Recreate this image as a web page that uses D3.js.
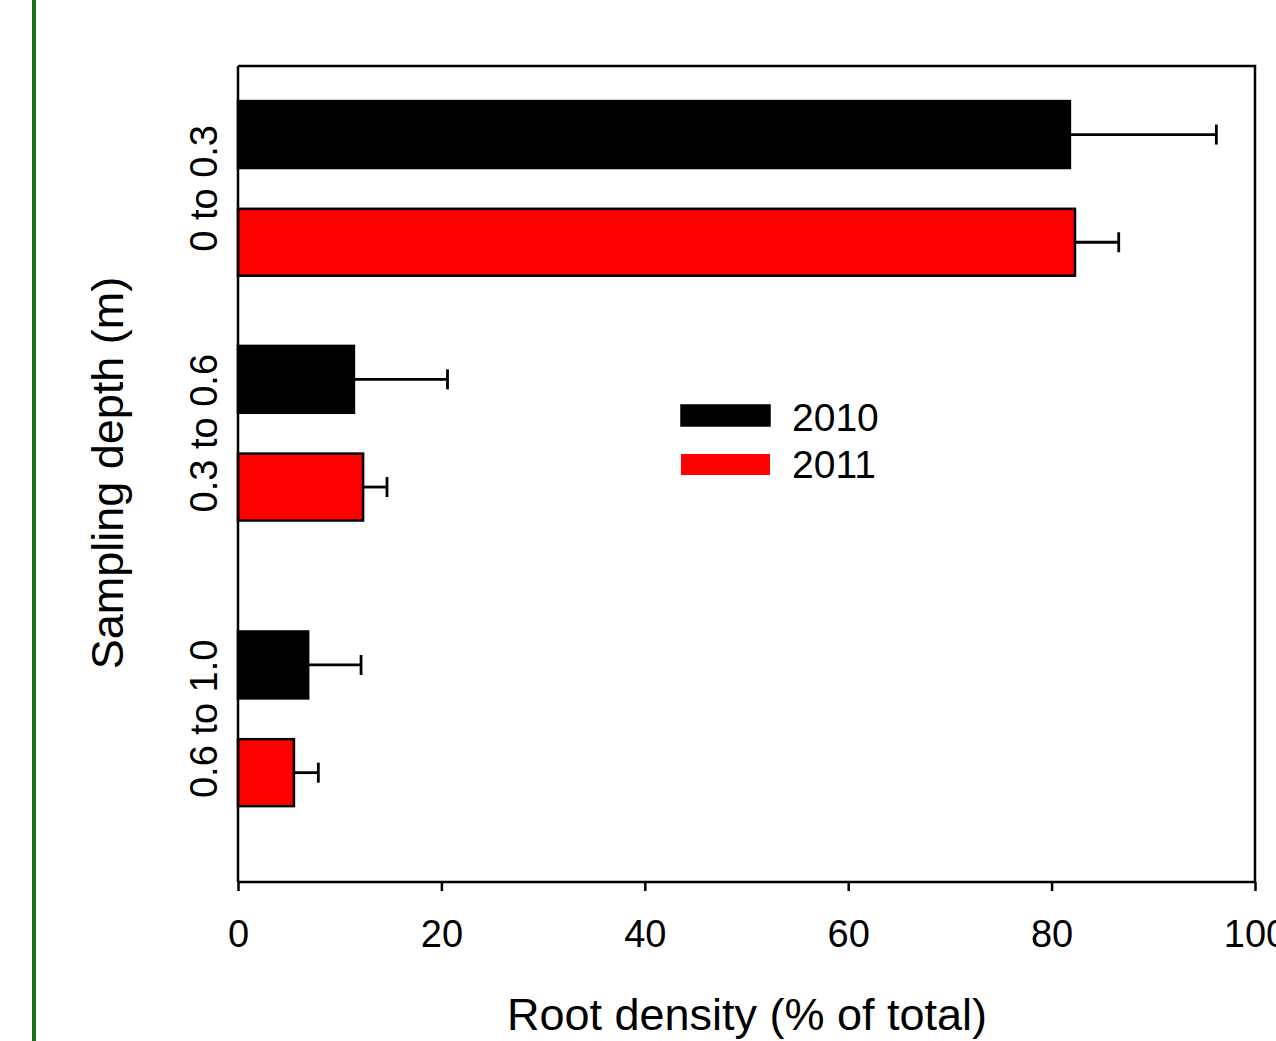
<!DOCTYPE html>
<html>
<head>
<meta charset="utf-8">
<script src="https://cdn.jsdelivr.net/npm/d3@7"></script>
<style>
  html, body { margin: 0; padding: 0; background: #fff; }
  svg { display: block; }
  text { font-family: "Liberation Sans", Arial, sans-serif; fill: #000; }
</style>
</head>
<body>
<script>
// Sampling depth layers (m) and their labels
const depthTop = [0, 0.3, 0.6];
const depthBottom = [0.3, 0.6, 1.0];
const depthLabels = ["0 to 0.3", "0.3 to 0.6", "0.6 to 1.0"];

// Series: root density (% of total) and standard errors
const years = ["2010", "2011"];
const density2010 = [81.8, 11.4, 6.9];
const error2010 = [14.4, 9.2, 5.2];
const density2011 = [82.3, 12.3, 5.5];
const error2011 = [4.3, 2.35, 2.4];

const xTicks = [0, 20, 40, 60, 80, 100];
const colors = ["#000000", "#ff0000"];

const W = 1276, H = 1041;
const plot = { left: 238, right: 1255, top: 66, bottom: 882 };

const svg = d3.select("body").append("svg")
  .attr("width", W).attr("height", H);

// Vertical rule at the left edge of the figure
svg.append("line")
  .attr("x1", 34).attr("x2", 34).attr("y1", 0).attr("y2", H)
  .attr("stroke", "#1a701a").attr("stroke-width", 4);

const x = d3.scaleLinear().domain([0, 100]).range([plot.left, plot.right]);
const y = d3.scaleLinear().domain([0, 1]).range([plot.top, plot.bottom]);

const series = [
  { year: years[0], values: density2010, errors: error2010, offset: -0.066, color: colors[0] },
  { year: years[1], values: density2011, errors: error2011, offset: 0.066, color: colors[1] }
];
const barH = 0.082;
const mids = depthTop.map((t, i) => (t + depthBottom[i]) / 2);

const rows = [];
series.forEach(s => {
  s.values.forEach((v, i) => {
    rows.push({ v, e: s.errors[i], c: mids[i] + s.offset, color: s.color });
  });
});

// Error bars (positive side only)
const eg = svg.append("g").attr("stroke", "#000").attr("stroke-width", 2.8);
rows.forEach(r => {
  eg.append("line")
    .attr("x1", x(r.v)).attr("x2", x(r.v + r.e))
    .attr("y1", y(r.c)).attr("y2", y(r.c));
  eg.append("line")
    .attr("x1", x(r.v + r.e)).attr("x2", x(r.v + r.e))
    .attr("y1", y(r.c) - 10).attr("y2", y(r.c) + 10);
});

// Bars
svg.append("g").selectAll("rect").data(rows).join("rect")
  .attr("x", x(0))
  .attr("y", d => y(d.c - barH / 2))
  .attr("width", d => x(d.v) - x(0))
  .attr("height", d => y(d.c + barH / 2) - y(d.c - barH / 2))
  .attr("fill", d => d.color)
  .attr("stroke", "#000").attr("stroke-width", 2.5);

// Frame: top and right
svg.append("path")
  .attr("d", `M${plot.left},${plot.top}H${plot.right}V${plot.bottom}`)
  .attr("fill", "none").attr("stroke", "#000").attr("stroke-width", 2.5);

// Left axis line (no ticks)
svg.append("line")
  .attr("x1", plot.left).attr("x2", plot.left)
  .attr("y1", plot.top).attr("y2", plot.bottom)
  .attr("stroke", "#000").attr("stroke-width", 2.5);

// Bottom axis
const xAxis = svg.append("g")
  .attr("transform", `translate(0,${plot.bottom})`)
  .call(d3.axisBottom(x).tickValues(xTicks).tickSize(9).tickPadding(29).tickFormat(d3.format("d")));
xAxis.select(".domain").attr("stroke-width", 2.5).attr("d", `M${plot.left},0H${plot.right}`);
xAxis.selectAll(".tick line").attr("stroke-width", 2.5);
xAxis.selectAll(".tick text")
  .style("font-family", "'Liberation Sans', Arial, sans-serif")
  .style("font-size", "38px");

// Depth category labels
svg.append("g").selectAll("text").data(depthLabels).join("text")
  .attr("transform", (d, i) => `translate(217,${y(mids[i])}) rotate(-90)`)
  .attr("text-anchor", "middle")
  .style("font-size", "38px")
  .text(d => d);

// Axis titles
svg.append("text")
  .attr("x", (plot.left + plot.right) / 2 + 0.5).attr("y", 1030)
  .attr("text-anchor", "middle")
  .style("font-size", "45px")
  .text("Root density (% of total)");

svg.append("text")
  .attr("transform", `translate(123,473) rotate(-90)`)
  .attr("text-anchor", "middle")
  .style("font-size", "45px")
  .text("Sampling depth (m)");

// Legend
const legend = svg.append("g");
series.forEach((s, i) => {
  const ly = 405 + i * 49;
  legend.append("rect")
    .attr("x", 681).attr("y", ly)
    .attr("width", 89).attr("height", 21)
    .attr("fill", s.color)
    .attr("stroke", s.color === "#000000" ? "#000" : "none").attr("stroke-width", 1.5);
  legend.append("text")
    .attr("x", 792).attr("y", 431 + i * 47)
    .style("font-size", "39px")
    .text(s.year);
});
</script>
</body>
</html>
